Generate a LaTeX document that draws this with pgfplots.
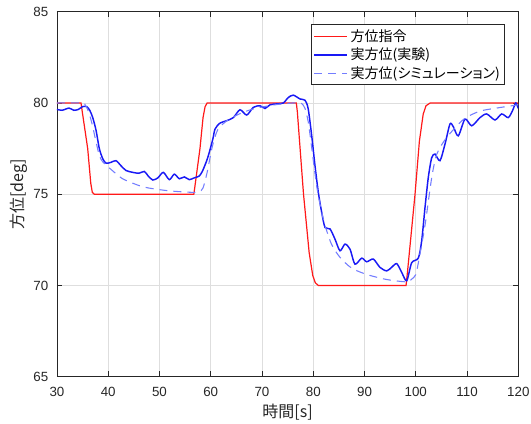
\documentclass[border=0pt]{standalone}
\usepackage{fontspec}
\setmainfont{Liberation Sans}
\newfontfamily\jp[RawFeature=+palt]{Noto Sans CJK JP}
\usepackage{pgfplots}
\pgfplotsset{compat=1.18}
\definecolor{cmd}{RGB}{255,25,25}
\definecolor{expc}{RGB}{25,25,245}
\definecolor{simc}{RGB}{115,125,255}
\definecolor{axgray}{RGB}{38,38,38}
\begin{document}
\begin{tikzpicture}
\useasboundingbox (-42.7pt,-34.7pt) rectangle (355.5pt,282.55pt);
\begin{axis}[
  scale only axis, width=346pt, height=273.75pt,
  xmin=30, xmax=120, ymin=65, ymax=85,
  xtick={30,40,...,120}, ytick={65,70,...,85},
  grid=major, major grid style={color=black!13, line width=0.5pt},
  tick align=inside, major tick length=4pt,
  tick style={axgray, line width=0.5pt},
  axis line style={axgray, line width=0.6pt},
  /pgf/number format/assume math mode=true,
  tick label style={font=\fontsize{10}{12}\selectfont, text=axgray},
  xticklabel style={yshift=-4.5pt},
  yticklabel style={xshift=-3pt},
  xlabel={\jp 時間[s]}, ylabel={\jp 方位[deg]},
  xlabel style={at={(axis description cs:0.5,-0.0959)}, anchor=center, font=\fontsize{12}{14}\selectfont, text=axgray},
  ylabel style={at={(axis description cs:-0.0837,0.5)}, anchor=center, font=\fontsize{12}{14}\selectfont, text=axgray},
  legend cell align=left,
  legend image code/.code={\draw[#1] (0pt,0pt) -- (25pt,0pt);},
  legend style={at={(axis description cs:1,1)}, anchor=north east, xshift=-10pt, yshift=-9.5pt,
    draw=axgray, line width=0.6pt, font=\jp\fontsize{10.5}{12.5}\selectfont, inner sep=1.5pt, row sep=-0.5pt},
]
\addplot[cmd, line width=0.9pt] coordinates {
(30,80) (34.7,80) (34.9,79.6) (36.0,77.5) (36.6,75.6) (36.9,75.1) (37.3,75)
(56.7,75) (56.9,75.4) (57.9,77.5) (58.5,79.2) (58.9,79.8) (59.3,80)
(76.7,80) (76.9,79.5) (78.1,75) (79.2,71.8) (79.9,70.55) (80.4,70.15) (81.0,70)
(98.1,70) (98.4,70.8) (99.85,75) (100.7,77.9) (101.45,79.4) (102.0,79.85) (102.8,80) (120,80)
};
\addlegendentry{方位指令}
\addplot[expc, line width=1.1pt, smooth, tension=0.45] coordinates {
(30,79.65) (31.0,79.6) (32.36,79.72) (33.3,79.6) (34.2,79.65) (35.0,79.8) (35.8,79.8)
(36.4,79.6) (36.98,79.2) (37.63,78.5) (38.27,77.5) (38.93,76.95) (39.58,76.7) (40.55,76.75)
(41.53,76.84) (42.5,76.56) (43.48,76.3) (44.78,76.2) (46.0,76.15) (47.05,76.25) (47.8,76.0)
(48.69,75.78) (49.7,75.9) (50.75,76.2) (51.92,75.8) (52.9,76.1) (53.87,75.85) (54.85,75.95)
(55.82,75.8) (56.8,75.9) (57.77,76.0) (58.44,76.3) (59.41,77.0) (60.39,78.0) (60.84,78.57)
(61.81,78.9) (63.12,79.03) (64.41,79.2) (65.71,79.63) (67.02,79.34) (68.31,79.76) (69.61,79.85)
(70.59,79.7) (71.56,79.9) (72.87,79.95) (74.16,80.0) (75.13,80.3) (76.11,80.43) (77.42,80.22)
(78.39,80.15) (79.0,79.7) (79.70,78.2) (80.34,76.56) (80.99,75.1) (81.65,74.0) (82.29,73.18)
(83.27,73.1) (84.24,72.54) (85.22,71.9) (86.19,72.27) (87.17,71.99) (88.14,71.17) (89.45,71.5)
(90.43,71.3) (91.71,71.45) (93.02,70.99) (94.33,70.8) (95.3,71.0) (96.28,71.2) (97.25,70.72)
(98.23,70.26) (99.2,71.25) (100.49,71.5) (101.15,72.45) (101.8,74.28) (102.44,75.92) (103.1,77.0)
(103.75,77.2) (104.72,76.84) (105.7,77.75) (106.67,78.85) (107.32,78.7) (108.29,78.2) (109.6,79.12)
(110.91,78.75) (112.53,79.2) (113.83,79.4) (115.45,79.07) (116.76,79.4) (118.04,79.2) (118.9,79.6)
(119.5,80.0) (120,79.7)
};
\addlegendentry{実方位(実験)}
\addplot[simc, line width=0.8pt, dash pattern=on 6pt off 4.5pt, smooth, tension=0.45] coordinates {
(30,80) (34.9,80) (35.5,79.9) (36.2,79.5) (36.9,78.8) (37.6,77.9) (38.3,77.1) (39.0,76.75)
(40.6,76.35) (42.8,75.85) (46.5,75.43) (49.3,75.28) (52.5,75.17) (56.8,75.1) (57.8,75.15)
(58.5,75.35) (59.3,76.2) (60.3,77.6) (61.4,78.55) (63.5,79.1) (66,79.45) (68,79.65) (70,79.78)
(73,79.92) (76,80) (77.6,80) (78.4,79.7) (79.0,79.0) (79.4,78.2) (80.7,75.4) (82.0,73.6)
(83.5,72.3) (85.2,71.55) (87.5,70.95) (90.5,70.6) (94.3,70.33) (98.2,70.2) (99.2,70.35)
(100.0,70.6) (100.6,71.4) (101.8,73.3) (103.1,75.9) (104.1,77.2) (106,78.1) (109.3,79.1)
(112.5,79.55) (116.4,79.75) (120,79.9)
};
\addlegendentry{実方位(シミュレーション)}
\end{axis}
\end{tikzpicture}
\end{document}
